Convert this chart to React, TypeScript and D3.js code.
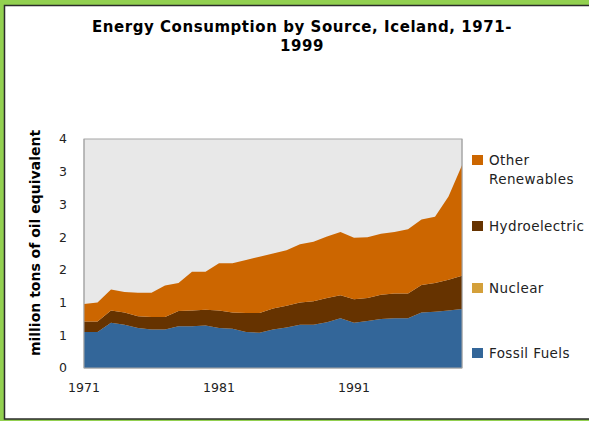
import React from "react";
import * as d3 from "d3";

const years = [1971,1972,1973,1974,1975,1976,1977,1978,1979,1980,1981,1982,1983,1984,1985,1986,1987,1988,1989,1990,1991,1992,1993,1994,1995,1996,1997,1998,1999];
const fossilFuels = [0.55,0.55,0.69,0.66,0.61,0.59,0.59,0.64,0.64,0.65,0.61,0.60,0.55,0.54,0.59,0.62,0.66,0.66,0.70,0.76,0.69,0.72,0.75,0.76,0.76,0.85,0.86,0.88,0.90];
const nuclear = [0,0,0,0,0,0,0,0,0,0,0,0,0,0,0,0,0,0,0,0,0,0,0,0,0,0,0,0,0];
const hydroelectric = [0.16,0.16,0.19,0.19,0.18,0.19,0.19,0.23,0.24,0.24,0.27,0.25,0.29,0.30,0.32,0.33,0.34,0.36,0.37,0.35,0.36,0.35,0.37,0.38,0.38,0.42,0.44,0.47,0.51];
const otherRenewables = [0.27,0.29,0.32,0.31,0.36,0.37,0.48,0.43,0.59,0.58,0.72,0.75,0.81,0.86,0.84,0.85,0.89,0.91,0.94,0.97,0.94,0.93,0.93,0.94,0.98,1.00,1.01,1.27,1.69];

const seriesKeys = ["fossil", "nuclear", "hydro", "other"];
const seriesColors = ["#336699", "#cc9933", "#663300", "#cc6600"];
const yTickValues = [0, 0.5, 1, 1.5, 2, 2.5, 3, 3.5];
const yTickLabels = ["0", "1", "1", "2", "2", "3", "3", "4"];
const xTickYears = [1971, 1981, 1991];
const legendItems = [
  { lines: ["Other", "Renewables"], color: "#cc6600" },
  { lines: ["Hydroelectric"], color: "#663300" },
  { lines: ["Nuclear"], color: "#d4a03a" },
  { lines: ["Fossil Fuels"], color: "#336699" },
];
const titleLines = ["Energy Consumption by Source, Iceland, 1971-", "1999"];
const yAxisTitle = "million tons of oil equivalent";

export default function App() {
  const W = 589, H = 421;
  const plot = { left: 84, right: 462, top: 139, bottom: 368 };
  const x = d3.scaleLinear().domain([1971, 1999]).range([plot.left, plot.right]);
  const y = d3.scaleLinear().domain([0, 3.5]).range([plot.bottom, plot.top]);

  const table = years.map((yr, i) => ({
    year: yr,
    fossil: fossilFuels[i],
    nuclear: nuclear[i],
    hydro: hydroelectric[i],
    other: otherRenewables[i],
  }));
  const stacked = d3.stack<any>().keys(seriesKeys)(table);
  const area = d3
    .area<any>()
    .x((d) => x(d.data.year))
    .y0((d) => y(d[0]))
    .y1((d) => y(d[1]));

  const font = "Tahoma, 'DejaVu Sans', sans-serif";
  const legendY = [160, 226, 288, 353];

  return (
    <svg
      width={W}
      height={H}
      style={{ position: "absolute", left: 0, top: 0 }}
      fontFamily={font}
    >
      <rect x={0} y={0} width={W} height={H} fill="#92d050" />
      <rect x={4.5} y={5.5} width={620} height={413.5} fill="#ffffff" stroke="#2b2b2b" strokeWidth={1.5} />
      {titleLines.map((t, i) => (
        <text key={i} x={302} y={32 + i * 19} textAnchor="middle" fontWeight="bold" fontSize={15} letterSpacing={0.55} fill="#000">
          {t}
        </text>
      ))}
      <rect x={plot.left} y={plot.top} width={plot.right - plot.left} height={plot.bottom - plot.top} fill="#e8e8e8" stroke="#a6a6a6" strokeWidth={1} />
      {stacked.map((s, i) => (
        <path key={s.key} d={area(s) || ""} fill={seriesColors[i]} />
      ))}
      <line x1={plot.left} x2={plot.left} y1={plot.top} y2={plot.bottom} stroke="#a6a6a6" />
      <line x1={plot.right} x2={plot.right} y1={plot.top} y2={plot.bottom} stroke="#a6a6a6" />
      <line x1={plot.left} x2={plot.right} y1={plot.bottom} y2={plot.bottom} stroke="#a6a6a6" />
      {yTickValues.map((v, i) => (
        <text key={i} x={67} y={y(v)} dy="0.35em" textAnchor="end" fontSize={12.5} fill="#222">
          {yTickLabels[i]}
        </text>
      ))}
      {xTickYears.map((yr) => (
        <text key={yr} x={x(yr)} y={392} textAnchor="middle" fontSize={12.5} fill="#222">
          {yr}
        </text>
      ))}
      <text
        transform={`translate(40, ${243}) rotate(-90)`}
        textAnchor="middle"
        fontWeight="bold"
        fontSize={14}
        fill="#000"
      >
        {yAxisTitle}
      </text>
      {legendItems.map((it, i) => (
        <g key={i}>
          <rect x={472} y={legendY[i] - 5} width={11} height={10} fill={it.color} />
          {it.lines.map((ln, j) => (
            <text key={j} x={489} y={legendY[i] + 5 + j * 19} fontSize={13.5} letterSpacing={0.4} fill="#222">
              {ln}
            </text>
          ))}
        </g>
      ))}
    </svg>
  );
}
